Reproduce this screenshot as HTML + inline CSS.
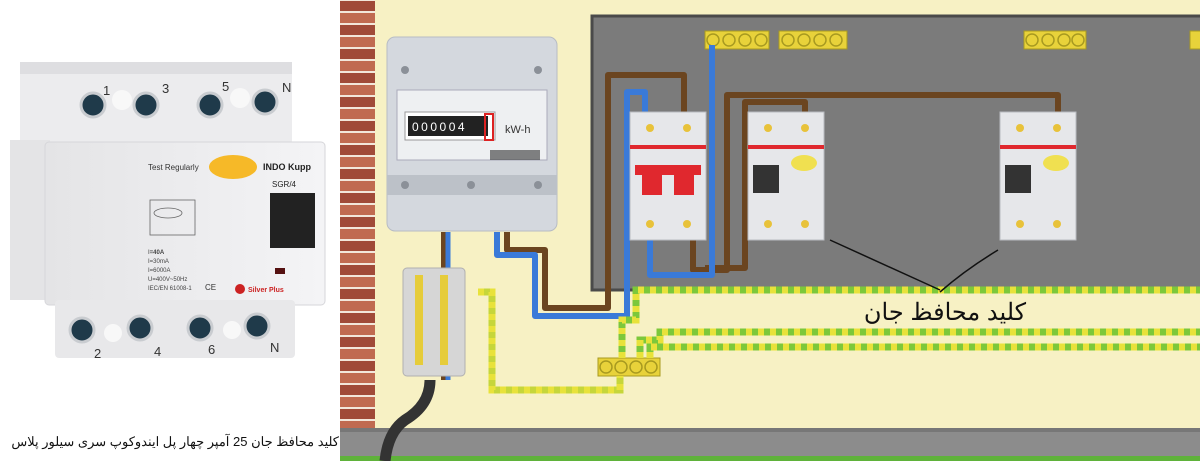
<!DOCTYPE html>
<html><head><meta charset="utf-8"><style>
html,body{margin:0;padding:0;background:#fff}
svg{display:block}
text{font-family:"Liberation Sans","Noto Sans CJK SC",sans-serif}
</style></head><body>
<svg width="1200" height="461" viewBox="0 0 1200 461" xmlns="http://www.w3.org/2000/svg">
<defs>
<pattern id="brick" width="36" height="24" patternUnits="userSpaceOnUse">
<rect width="36" height="24" fill="#f2e6da"/>
<rect x="0" y="1" width="36" height="10" fill="#a04a38"/>
<rect x="0" y="13" width="36" height="10" fill="#c06a50"/>
</pattern>
<linearGradient id="body" x1="0" x2="1"><stop offset="0" stop-color="#e4e4e6"/><stop offset="1" stop-color="#f4f4f6"/></linearGradient>
</defs>
<rect x="0" y="0" width="340" height="461" fill="#fff"/>
<rect x="20" y="62" width="272" height="84" rx="6" fill="#ececee"/>
<rect x="20" y="62" width="272" height="12" fill="#dedee1"/>
<rect x="10" y="140" width="40" height="160" fill="#e4e4e6"/>
<rect x="45" y="142" width="280" height="163" rx="4" fill="url(#body)" stroke="#d6d6da"/>
<rect x="55" y="300" width="240" height="58" rx="4" fill="#e8e8ea"/>
<g fill="#1f3a4a" stroke="#c9ccd0" stroke-width="3">
<circle cx="93" cy="105" r="12"/><circle cx="146" cy="105" r="12"/><circle cx="210" cy="105" r="12"/><circle cx="265" cy="102" r="12"/>
<circle cx="82" cy="330" r="12"/><circle cx="140" cy="328" r="12"/><circle cx="200" cy="328" r="12"/><circle cx="257" cy="326" r="12"/>
</g>
<g fill="#f8f8f8"><circle cx="122" cy="100" r="10"/><circle cx="240" cy="98" r="10"/><circle cx="113" cy="333" r="9"/><circle cx="232" cy="330" r="9"/></g>
<g font-size="13" fill="#333"><text x="103" y="95">1</text><text x="162" y="93">3</text><text x="222" y="91">5</text><text x="282" y="92">N</text>
<text x="94" y="358">2</text><text x="154" y="356">4</text><text x="208" y="354">6</text><text x="270" y="352">N</text></g>
<text x="148" y="170" font-size="8" fill="#333">Test Regularly</text>
<ellipse cx="233" cy="167" rx="24" ry="12" fill="#f6b928"/>
<text x="263" y="170" font-size="9" font-weight="bold" fill="#222">INDO Kupp</text>
<text x="272" y="187" font-size="8" fill="#222">SGR/4</text>
<rect x="270" y="193" width="45" height="55" fill="#222"/>
<rect x="275" y="268" width="10" height="6" fill="#511"/>
<g stroke="#666" stroke-width="0.8" fill="none"><rect x="150" y="200" width="45" height="35"/><ellipse cx="168" cy="213" rx="14" ry="5"/></g>
<g font-size="6" fill="#444"><text x="148" y="254">I<tspan font-weight="bold">=40A</tspan></text><text x="148" y="263">I=30mA</text><text x="148" y="272">I=6000A</text><text x="148" y="281">U=400V~50Hz</text><text x="148" y="290">IEC/EN 61008-1</text></g>
<text x="205" y="290" font-size="8" fill="#333">CE</text>
<circle cx="240" cy="289" r="5" fill="#c22"/><text x="248" y="292" font-size="7" font-weight="bold" fill="#c22">Silver Plus</text>
<text x="339" y="446" font-size="13" fill="#111" text-anchor="start" direction="rtl">کلید محافظ جان 25 آمپر چهار پل ایندوکوپ سری سیلور پلاس</text>
<rect x="340" y="0" width="35" height="430" fill="url(#brick)"/>
<rect x="375" y="0" width="825" height="430" fill="#f7f1c4"/>
<rect x="340" y="428" width="860" height="28" fill="#8c8c8c"/>
<rect x="340" y="428" width="860" height="4" fill="#777"/>
<rect x="340" y="456" width="860" height="5" fill="#5fb23a"/>
<rect x="592" y="16" width="610" height="274" fill="#7b7b7b" stroke="#4a4a4a" stroke-width="3"/>
<g fill="#e8d23a" stroke="#a89a20">
<rect x="705" y="31" width="64" height="18"/><rect x="779" y="31" width="68" height="18"/><rect x="1024" y="31" width="62" height="18"/><rect x="1190" y="31" width="12" height="18"/>
<rect x="598" y="358" width="62" height="18"/>
</g>
<g fill="none" stroke="#a89a20" stroke-width="1.5">
<circle cx="713" cy="40" r="6"/><circle cx="729" cy="40" r="6"/><circle cx="745" cy="40" r="6"/><circle cx="761" cy="40" r="6"/>
<circle cx="788" cy="40" r="6"/><circle cx="804" cy="40" r="6"/><circle cx="820" cy="40" r="6"/><circle cx="836" cy="40" r="6"/>
<circle cx="1032" cy="40" r="6"/><circle cx="1048" cy="40" r="6"/><circle cx="1064" cy="40" r="6"/><circle cx="1078" cy="40" r="6"/>
<circle cx="606" cy="367" r="6"/><circle cx="621" cy="367" r="6"/><circle cx="636" cy="367" r="6"/><circle cx="651" cy="367" r="6"/>
</g>
<g fill="none" stroke-linejoin="round" stroke-width="6">
<path d="M507 232 V250 H545 V308 H608 V75 H684 V115" stroke="#6b4520"/>
<path d="M497 232 V255 H535 V316 H627 V92 H645 V115" stroke="#3a7ad8"/>
<path d="M444 232 V380" stroke="#6b4520"/>
<path d="M448 232 V380" stroke="#3a7ad8" stroke-width="5"/>
<path d="M1058 112 V95 H727 V270 H693 V238" stroke="#6b4520"/>
<path d="M805 112 V102 H745 V268 H705" stroke="#6b4520"/>
<path d="M712 45 V275 H650 V238" stroke="#3a7ad8"/>
</g>
<g fill="none" stroke-width="7">
<path d="M478 292 H492 V390 H620 V376" stroke="#c6d63a"/>
<path d="M478 292 H492 V390 H620 V376" stroke="#e8e23a" stroke-dasharray="6 6"/>
<path d="M622 358 V320 H636 V290 H1200" stroke="#7cc83a"/>
<path d="M622 358 V320 H636 V290 H1200" stroke="#e8e23a" stroke-dasharray="6 6"/>
<path d="M640 358 V340 H660 V332 H1200" stroke="#7cc83a"/>
<path d="M640 358 V340 H660 V332 H1200" stroke="#e8e23a" stroke-dasharray="6 6"/>
<path d="M650 358 V347 H1200" stroke="#7cc83a"/>
<path d="M650 358 V347 H1200" stroke="#e8e23a" stroke-dasharray="6 6"/>
</g>
<rect x="387" y="37" width="170" height="194" rx="8" fill="#d4d8de" stroke="#b7bcc4"/>
<rect x="397" y="90" width="150" height="70" fill="#eef0f2" stroke="#aab"/>
<rect x="405" y="112" width="90" height="28" fill="#fff" stroke="#999"/>
<rect x="408" y="116" width="80" height="20" fill="#222"/>
<text x="412" y="131" font-size="12" fill="#fff" letter-spacing="2.5">000004</text>
<rect x="485" y="114" width="8" height="26" fill="none" stroke="#d22" stroke-width="2"/>
<text x="505" y="133" font-size="11" fill="#333">kW-h</text>
<rect x="490" y="150" width="50" height="10" fill="#333" opacity="0.6"/>
<rect x="387" y="175" width="170" height="20" fill="#bcc1c8"/>
<g fill="#8b9098"><circle cx="405" cy="70" r="4"/><circle cx="538" cy="70" r="4"/><circle cx="405" cy="185" r="4"/><circle cx="471" cy="185" r="4"/><circle cx="538" cy="185" r="4"/></g>
<g>
<rect x="630" y="112" width="76" height="128" fill="#e6e7ea" stroke="#b8bbc0"/>
<rect x="630" y="145" width="76" height="4" fill="#e0282e"/>
<rect x="635" y="165" width="66" height="10" fill="#e0282e"/><rect x="642" y="170" width="20" height="25" fill="#e0282e"/><rect x="674" y="170" width="20" height="25" fill="#e0282e"/>
<rect x="748" y="112" width="76" height="128" fill="#e6e7ea" stroke="#b8bbc0"/>
<rect x="748" y="145" width="76" height="4" fill="#e0282e"/>
<rect x="753" y="165" width="26" height="28" fill="#333"/><ellipse cx="804" cy="163" rx="13" ry="8" fill="#f0e050"/>
<rect x="1000" y="112" width="76" height="128" fill="#e6e7ea" stroke="#b8bbc0"/>
<rect x="1000" y="145" width="76" height="4" fill="#e0282e"/>
<rect x="1005" y="165" width="26" height="28" fill="#333"/><ellipse cx="1056" cy="163" rx="13" ry="8" fill="#f0e050"/>
<g fill="#e8c23a"><circle cx="650" cy="128" r="4"/><circle cx="687" cy="128" r="4"/><circle cx="650" cy="224" r="4"/><circle cx="687" cy="224" r="4"/>
<circle cx="768" cy="128" r="4"/><circle cx="805" cy="128" r="4"/><circle cx="768" cy="224" r="4"/><circle cx="805" cy="224" r="4"/>
<circle cx="1020" cy="128" r="4"/><circle cx="1057" cy="128" r="4"/><circle cx="1020" cy="224" r="4"/><circle cx="1057" cy="224" r="4"/></g>
</g>
<path d="M830 240 L940 290 M998 250 Q965 270 940 292" stroke="#111" stroke-width="1.5" fill="none"/>
<text x="945" y="320" font-size="24" fill="#111" text-anchor="middle" direction="rtl">کلید محافظ جان</text>
<rect x="403" y="268" width="62" height="108" rx="4" fill="#d6d6d6" stroke="#b0b0b0"/>
<rect x="415" y="275" width="8" height="90" fill="#e6cc3a"/><rect x="440" y="275" width="8" height="90" fill="#e6cc3a"/>
<path d="M430 380 Q430 405 405 420 Q388 432 385 461" stroke="#333" stroke-width="11" fill="none"/>
</svg>
</body></html>
